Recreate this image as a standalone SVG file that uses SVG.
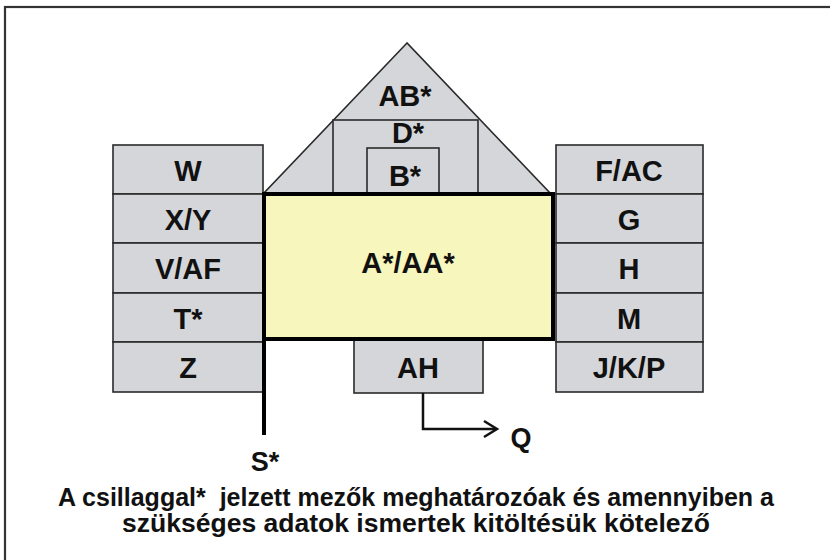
<svg xmlns="http://www.w3.org/2000/svg" width="830" height="560" viewBox="0 0 830 560">
<style>
.box{fill:#d5d6d9;stroke:#2a2a2a;stroke-width:1.6}
.lbl{font-family:"Liberation Sans",Arial,sans-serif;font-weight:bold;font-size:29px;fill:#111;text-anchor:middle}
.note{font-family:"Liberation Sans",Arial,sans-serif;font-weight:bold;font-size:25px;fill:#111;text-anchor:middle;white-space:pre}
.thick{fill:none;stroke:#000;stroke-width:4}
.conn{fill:none;stroke:#111;stroke-width:2.5}
</style>
<rect width="830" height="560" fill="#fff"/>
<rect x="5" y="7" width="830" height="560" fill="none" stroke="#333" stroke-width="2.2"/>

<g id="roof">
<polygon class="box" points="407,43 264,193 550,193"/>
<text class="lbl" x="405" y="106">AB*</text>
</g>
<g id="D">
<rect class="box" x="333" y="120" width="145" height="73"/>
<text class="lbl" x="408" y="143">D*</text>
</g>
<g id="B">
<rect class="box" x="367" y="148" width="72" height="45"/>
<text class="lbl" x="405" y="186">B*</text>
</g>

<g id="W"><rect class="box" x="113" y="145" width="150" height="49"/><text class="lbl" x="188" y="181">W</text></g>
<g id="XY"><rect class="box" x="113" y="194" width="150" height="49"/><text class="lbl" x="188" y="230">X/Y</text></g>
<g id="VAF"><rect class="box" x="113" y="243" width="150" height="50"/><text class="lbl" x="188" y="279">V/AF</text></g>
<g id="T"><rect class="box" x="113" y="293" width="150" height="49"/><text class="lbl" x="188" y="329">T*</text></g>
<g id="Z"><rect class="box" x="113" y="342" width="150" height="50"/><text class="lbl" x="188" y="378">Z</text></g>

<g id="FAC"><rect class="box" x="556" y="145" width="147" height="49"/><text class="lbl" x="629" y="181">F/AC</text></g>
<g id="G"><rect class="box" x="556" y="194" width="147" height="49"/><text class="lbl" x="629" y="230">G</text></g>
<g id="H"><rect class="box" x="556" y="243" width="147" height="50"/><text class="lbl" x="629" y="279">H</text></g>
<g id="M"><rect class="box" x="556" y="293" width="147" height="49"/><text class="lbl" x="629" y="329">M</text></g>
<g id="JKP"><rect class="box" x="556" y="342" width="147" height="50"/><text class="lbl" x="629" y="378">J/K/P</text></g>

<g id="AH"><rect class="box" x="354" y="339" width="129" height="54"/><text class="lbl" x="418" y="378">AH</text></g>

<g id="A">
<rect x="264" y="194" width="289" height="145" fill="#f7f6bd"/>
<text class="lbl" x="408" y="273">A*/AA*</text>
</g>

<g id="connectors">
<polyline class="thick" points="264,435 264,194 553,194 553,339 264,339"/>
<polyline class="conn" points="423,393 423,429 496,429"/>
<polyline class="conn" points="484,421 497,429 484,437"/>
</g>

<g id="labels">
<text class="lbl" x="265" y="471" style="font-size:27px">S*</text>
<text class="lbl" x="521" y="447" style="font-size:27px">Q</text>
<text class="note" x="416" y="506" textLength="716" lengthAdjust="spacingAndGlyphs">A csillaggal*  jelzett mezők meghatározóak és amennyiben a</text>
<text class="note" x="416" y="532" textLength="588" lengthAdjust="spacingAndGlyphs">szükséges adatok ismertek kitöltésük kötelező</text>
</g>
</svg>
